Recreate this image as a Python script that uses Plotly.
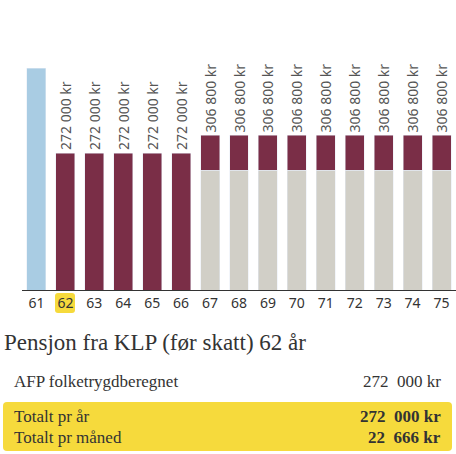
import plotly.graph_objects as go

ages = [str(a) for a in range(61, 76)]
salary = [440000] + [None] * 14
afp = [None] + [272000] * 5 + [68800] * 9
folketrygd = [None] * 6 + [238000] * 9
totals = [None] + [272000] * 5 + [306800] * 9
bar_labels = ["" if t is None else f"{t:,}".replace(",", " ") + " kr" for t in totals]

selected_age = "62"
summary_title = "Pensjon fra KLP (før skatt) 62 år"
row_labels = ["AFP folketrygdberegnet"]
row_values = ["272  000 kr"]
total_labels = ["Totalt pr år", "Totalt pr måned"]
total_values = ["272  000 kr", "22  666 kr"]

W, H = 456, 454
L, R, T, B = 22, 0, 60, 164
PW, PH = W - L - R, H - T - B

def px(x):
    return (x - L) / PW

def py(y):
    return (H - B - y) / PH

BLUE = "#a9cce3"
MAROON = "#7a2e47"
GREY = "#d1cfc7"
YELLOW = "#f6da3c"

fig = go.Figure()
fig.add_trace(go.Bar(x=ages, y=folketrygd, marker_color=GREY, hoverinfo="skip"))
fig.add_trace(go.Bar(x=ages, y=afp, marker_color=MAROON, text=bar_labels,
                     textposition="outside", textangle=-90, cliponaxis=False,
                     constraintext="none",
                     textfont=dict(size=14, color="#555", family="Noto Sans")))
fig.add_trace(go.Bar(x=ages, y=salary, marker_color=BLUE))

def rrect(x0, y0, x1, y1, r):
    rx, ry = r / PW, r / PH
    a0, a1 = px(x0), px(x1)
    b0, b1 = py(y1), py(y0)
    return (f"M {a0+rx},{b0} L {a1-rx},{b0} Q {a1},{b0} {a1},{b0+ry} "
            f"L {a1},{b1-ry} Q {a1},{b1} {a1-rx},{b1} L {a0+rx},{b1} "
            f"Q {a0},{b1} {a0},{b1-ry} L {a0},{b0+ry} Q {a0},{b0} {a0+rx},{b0} Z")

shapes = [
    dict(type="path", xref="paper", yref="paper", path=rrect(55, 293, 75, 313, 3),
         fillcolor=YELLOW, line=dict(width=0), layer="below"),
    dict(type="path", xref="paper", yref="paper", path=rrect(3, 402, 452, 451, 4),
         fillcolor=YELLOW, line=dict(width=0), layer="below"),
]

serif = "Liberation Serif"
ann = [
    dict(x=px(2), y=py(342), text=summary_title, xanchor="left", yanchor="middle",
         font=dict(family=serif, size=23, color="#333")),
    dict(x=px(12), y=py(381), text=row_labels[0], xanchor="left", yanchor="middle",
         font=dict(family=serif, size=17, color="#333")),
    dict(x=px(443), y=py(381), text=row_values[0], xanchor="right", yanchor="middle",
         font=dict(family=serif, size=17, color="#333")),
]
for i, (lab, val) in enumerate(zip(total_labels, total_values)):
    yy = 416 + i * 21
    ann.append(dict(x=px(12), y=py(yy), text=lab, xanchor="left", yanchor="middle",
                    font=dict(family=serif, size=17, color="#333")))
    ann.append(dict(x=px(443), y=py(yy), text=f"<b>{val}</b>", xanchor="right", yanchor="middle",
                    font=dict(family=serif, size=17, color="#333")))
for a in ann:
    a.update(xref="paper", yref="paper", showarrow=False)

fig.update_layout(
    width=W, height=H, margin=dict(l=L, r=R, t=T, b=B),
    barmode="stack", bargap=0.345, showlegend=False,
    plot_bgcolor="white", paper_bgcolor="white",
    shapes=shapes, annotations=ann,
    xaxis=dict(type="category", showline=True, linecolor="#333", linewidth=1,
               showgrid=False, ticks="",
               tickfont=dict(family="Noto Sans", size=14, color="#333")),
    yaxis=dict(range=[0, PH * 272000 / 137], visible=False, showgrid=False),
)
fig.write_html("out.html", config={"displayModeBar": False},
               post_script="document.body.style.margin='0';")
